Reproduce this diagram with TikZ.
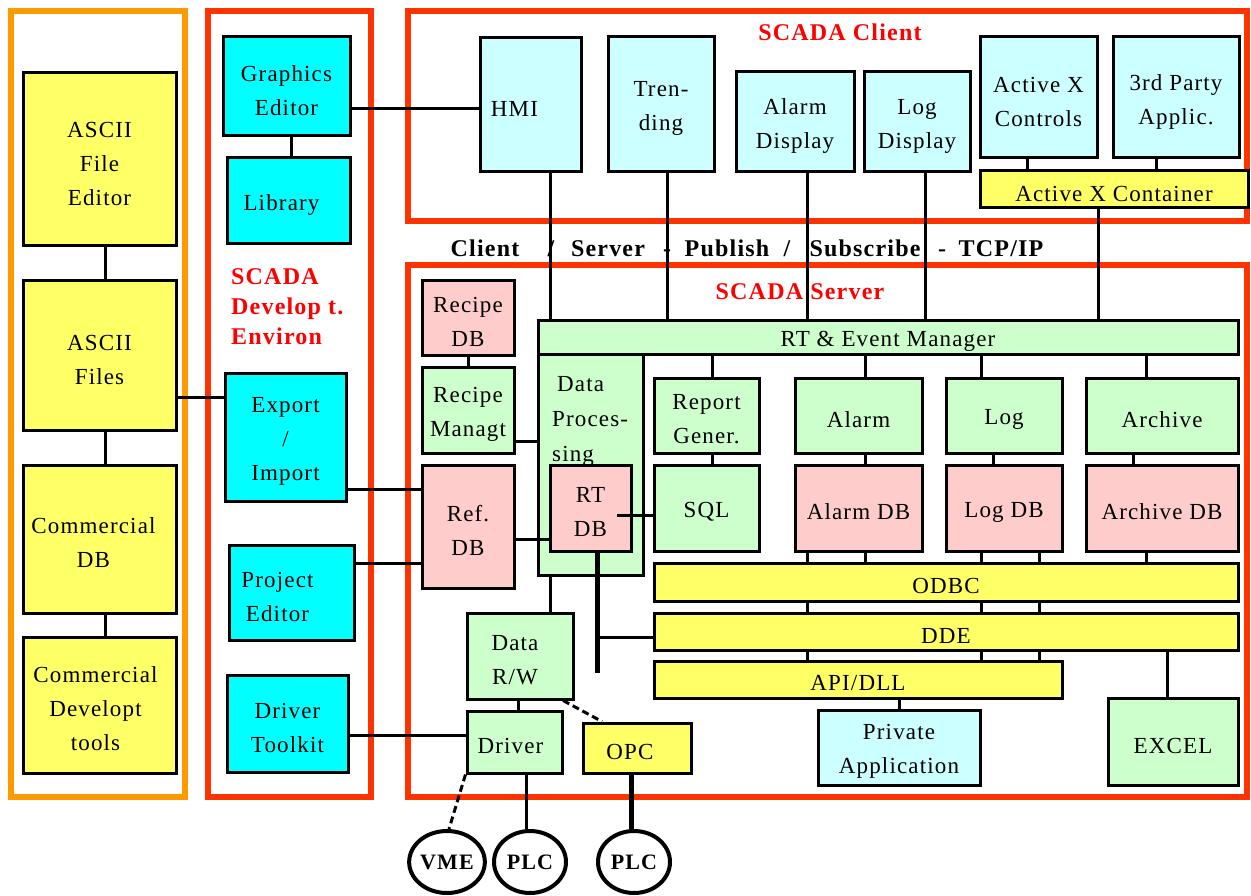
\documentclass[tikz,border=0pt]{standalone}
\usepackage{fontspec}
\setmainfont{Liberation Serif}[LetterSpace=5]
\usetikzlibrary{shapes.geometric}
\definecolor{cy}{HTML}{00FFFF}
\definecolor{lcy}{HTML}{CCFFFF}
\definecolor{yl}{HTML}{FFFF66}
\definecolor{gr}{HTML}{CCFFCC}
\definecolor{pk}{HTML}{FFCCCC}
\definecolor{fr}{HTML}{FF3300}
\definecolor{org}{HTML}{FF9900}
\definecolor{rt}{HTML}{FF0000}
\tikzset{
 box/.style={draw, line width=3pt, inner sep=0pt},
 btxt/.style={yshift=-4pt, align=center, inner sep=0pt, font=\fontsize{23}{34}\selectfont},
 bt/.style={label={[btxt]center:#1}},
 frame/.style={draw=fr, line width=6pt},
 conn/.style={line width=3pt},
 thickconn/.style={line width=5pt},
 dconn/.style={line width=3pt, dash pattern=on 7pt off 4pt},
 title/.style={text=rt, inner sep=0pt, font=\fontsize{24}{30}\selectfont\bfseries},
 bus/.style={inner sep=0pt, anchor=base, font=\fontsize{24}{30}\selectfont\bfseries},
 dev/.style={ellipse, draw, line width=4pt, fill=white, minimum width=72pt, minimum height=62pt, inner sep=0pt, font=\fontsize{22}{26}\selectfont\bfseries},
}
\begin{document}
\begin{tikzpicture}[x=1pt,y=-1pt]
\useasboundingbox[fill=white] (0,0) rectangle (1251,896);
% frames
\draw[draw=org, line width=6pt] (11,11) rectangle (185,797);
\draw[frame] (208,11) rectangle (371,797);
\draw[frame] (408,11) rectangle (1247,221);
\draw[frame] (408,265) rectangle (1247,797);
% titles
\node[title] (tclient) at (840,32) {SCADA Client};
\node[title] (tserver) at (800,292) {SCADA Server};
\node[title, anchor=north west, align=left, font=\fontsize{24}{30}\selectfont\bfseries] (tdev) at (231,268) {SCADA\\Develop t.\\Environ};
% bus label
\node[bus] (b1) at (485,257) {Client};
\node[bus] (b2) at (551,257) {/};
\node[bus] (b3) at (608,257) {Server};
\node[bus] (b4) at (667,257) {-};
\node[bus] (b5) at (727,257) {Publish};
\node[bus] (b6) at (787,257) {/};
\node[bus] (b7) at (865,257) {Subscribe};
\node[bus] (b8) at (942,257) {-};
\node[bus] (b9) at (1001,257) {TCP/IP};
% left column
\node[box,fill=yl,minimum width=153pt,minimum height=173pt,bt={ASCII\\File\\Editor}] (ased) at (99.5,159.5) {};
\node[box,fill=yl,minimum width=153pt,minimum height=149pt,bt={ASCII\\Files}] (asf) at (99.5,355.5) {};
\node[box,fill=yl,minimum width=153pt,minimum height=148pt,label={[btxt,xshift=-6pt]center:Commercial\\DB}] (cdb) at (99.5,539) {};
\node[box,fill=yl,minimum width=153pt,minimum height=136pt,label={[btxt,xshift=-4pt]center:Commercial\\Developt\\tools}] (cdev) at (99.5,705) {};
% development environment
\node[box,fill=cy,minimum width=127pt,minimum height=99pt,bt={Graphics\\Editor}] (ged) at (286.5,86.5) {};
\node[box,fill=cy,minimum width=123pt,minimum height=86pt,label={[btxt,xshift=-7pt]center:Library}] (lib) at (288.5,201) {};
\node[box,fill=cy,minimum width=121pt,minimum height=128pt,bt={Export\\/\\Import}] (exp) at (285.5,437) {};
\node[box,fill=cy,minimum width=125pt,minimum height=95pt,label={[btxt,xshift=-14pt]center:Project\\Editor}] (ped) at (291.5,592.5) {};
\node[box,fill=cy,minimum width=121pt,minimum height=97pt,bt={Driver\\Toolkit}] (dtk) at (287.5,723.5) {};
% client
\node[box,fill=lcy,minimum width=101pt,minimum height=134pt,label={[btxt,xshift=-16pt]center:HMI}] (hmi) at (530.5,105) {};
\node[box,fill=lcy,minimum width=106pt,minimum height=135pt,bt={Tren-\\ding}] (trend) at (661,104.5) {};
\node[box,fill=lcy,minimum width=118pt,minimum height=100pt,bt={Alarm\\Display}] (ald) at (795,122) {};
\node[box,fill=lcy,minimum width=106pt,minimum height=100pt,bt={Log\\Display}] (lgd) at (917,122) {};
\node[box,fill=lcy,minimum width=117pt,minimum height=121pt,bt={Active X\\Controls}] (axc) at (1038.5,97.5) {};
\node[box,fill=lcy,minimum width=126pt,minimum height=121pt,bt={3rd Party\\Applic.}] (tpa) at (1176,97.5) {};
\node[box,fill=yl,minimum width=268pt,minimum height=37pt,bt={Active X Container}] (axcon) at (1114,189.5) {};
% server
\node[box,fill=pk,minimum width=92pt,minimum height=74pt,bt={Recipe\\DB}] (recdb) at (468,318) {};
\node[box,fill=gr,minimum width=92pt,minimum height=86pt,bt={Recipe\\Managt}] (recm) at (468,410) {};
\node[box,fill=pk,minimum width=92pt,minimum height=123pt,bt={Ref.\\DB}] (refdb) at (468,526.5) {};
\node[box,fill=gr,minimum width=105pt,minimum height=221pt] (dproc) at (590.5,464.5) {};
\node[anchor=west, align=left, inner sep=0pt, font=\fontsize{23}{35}\selectfont] (dptext) at (552,421) {\hspace{5pt}Data\\Proces-\\sing};
\node[box,fill=pk,minimum width=81pt,minimum height=86pt,bt={RT\\DB}] (rtdb) at (590.5,508) {};
\node[box,fill=gr,minimum width=700pt,minimum height=34pt,bt={RT \& Event Manager}] (rtem) at (888,337) {};
\node[box,fill=gr,minimum width=105pt,minimum height=75pt,bt={Report\\Gener.}] (rep) at (706.5,415.5) {};
\node[box,fill=gr,minimum width=127pt,minimum height=75pt,bt={Alarm}] (alm) at (858.5,415.5) {};
\node[box,fill=gr,minimum width=116pt,minimum height=75pt,bt={Log}] (lg) at (1004,415.5) {};
\node[box,fill=gr,minimum width=152pt,minimum height=75pt,bt={Archive}] (arc) at (1162,415.5) {};
\node[box,fill=gr,minimum width=105pt,minimum height=86pt,bt={SQL}] (sql) at (706.5,508) {};
\node[box,fill=pk,minimum width=127pt,minimum height=86pt,bt={Alarm DB}] (almdb) at (858.5,508) {};
\node[box,fill=pk,minimum width=116pt,minimum height=86pt,bt={Log DB}] (lgdb) at (1004,508) {};
\node[box,fill=pk,minimum width=152pt,minimum height=86pt,bt={Archive DB}] (arcdb) at (1162,508) {};
\node[box,fill=yl,minimum width=584pt,minimum height=38pt,bt={ODBC}] (odbc) at (946,582) {};
\node[box,fill=yl,minimum width=584pt,minimum height=37pt,bt={DDE}] (dde) at (946,631.5) {};
\node[box,fill=yl,minimum width=408pt,minimum height=37pt,bt={API/DLL}] (api) at (858,679.5) {};
\node[box,fill=lcy,minimum width=162pt,minimum height=75pt,bt={Private\\Application}] (priv) at (899,747.5) {};
\node[box,fill=gr,minimum width=130pt,minimum height=87pt,bt={EXCEL}] (xl) at (1173,741.5) {};
\node[box,fill=gr,minimum width=106pt,minimum height=86pt,label={[btxt,xshift=-5pt]center:Data\\R/W}] (drw) at (520,656) {};
\node[box,fill=gr,minimum width=95pt,minimum height=62pt,label={[btxt,xshift=-4pt]center:Driver}] (drv) at (514.5,742) {};
\node[box,fill=yl,minimum width=108pt,minimum height=50pt,label={[btxt,xshift=-7pt]center:OPC}] (opc) at (637,748) {};
\node[dev] (vme) at (447,862) {VME};
\node[dev] (plc1) at (530,862) {PLC};
\node[dev] (plc2) at (634,862) {PLC};
% connectors: left column
\draw[conn] (ased.south -| 105,0) -- (asf.north -| 105,0);
\draw[conn] (asf.south -| 105,0) -- (cdb.north -| 105,0);
\draw[conn] (cdb.south -| 105,0) -- (cdev.north -| 105,0);
\draw[conn] (asf.east |- 0,397) -- (exp.west |- 0,397);
% development environment
\draw[conn] (ged.east |- 0,109) -- (hmi.west |- 0,109);
\draw[conn] (ged.south -| 291,0) -- (lib.north -| 291,0);
\draw[conn] (exp.east |- 0,489) -- (refdb.west |- 0,489);
\draw[conn] (ped.east |- 0,563) -- (refdb.west |- 0,563);
\draw[conn] (dtk.east |- 0,735) -- (drv.west |- 0,735);
% client to server
\draw[conn] (hmi.south -| 550,0) -- (rtem.north -| 550,0);
\draw[conn] (trend.south -| 667,0) -- (rtem.north -| 667,0);
\draw[conn] (ald.south -| 807,0) -- (rtem.north -| 807,0);
\draw[conn] (lgd.south -| 925,0) -- (rtem.north -| 925,0);
\draw[conn] (axc.south -| 1027,0) -- (axcon.north -| 1027,0);
\draw[conn] (tpa.south -| 1156,0) -- (axcon.north -| 1156,0);
\draw[conn] (axcon.south -| 1098,0) -- (rtem.north -| 1098,0);
% server internals
\draw[conn] (recdb.south) -- (recm.north);
\draw[conn] (recm.east |- 0,441) -- (dproc.west |- 0,441);
\draw[conn] (refdb.east |- 0,539) -- (rtdb.west |- 0,539);
\coordinate (rtdbtap) at (617,515);
\draw[conn] (rtdbtap) -- (sql.west |- rtdbtap);
\coordinate (ddetap) at (597,637);
\coordinate (rtend) at (597,673);
\draw[thickconn] (rtdb.south -| rtend) -- (rtend);
\draw[conn] (ddetap) -- (dde.west |- ddetap);
\draw[conn] (dproc.south -| 550,0) -- (drw.north -| 550,0);
\foreach \xx/\n in {712/rep, 865/alm, 981/lg, 1146/arc}
  \draw[conn] (rtem.south -| \xx,0) -- (\n.north -| \xx,0);
\foreach \xx/\a/\b in {712/rep/sql, 865/alm/almdb, 993/lg/lgdb, 1133/arc/arcdb}
  \draw[conn] (\a.south -| \xx,0) -- (\b.north -| \xx,0);
\foreach \xx/\n in {807/almdb, 865/almdb, 981/lgdb, 1039/lgdb, 1146/arcdb}
  \draw[conn] (\n.south -| \xx,0) -- (odbc.north -| \xx,0);
\foreach \xx in {807, 981, 1039} {
  \draw[conn] (odbc.south -| \xx,0) -- (dde.north -| \xx,0);
  \draw[conn] (dde.south -| \xx,0) -- (api.north -| \xx,0);
}
\draw[conn] (dde.south -| 1167,0) -- (xl.north -| 1167,0);
\draw[conn] (api.south -| 899,0) -- (priv.north -| 899,0);
\draw[conn] (drw.south -| 518,0) -- (drv.north -| 518,0);
\draw[dconn] (drw.south -| 563,0) -- (opc.north -| 602,0);
\draw[dconn] (drv.south west) -- (vme.north -| 449,0);
\draw[conn] (drv.south -| 526,0) -- (plc1.north -| 526,0);
\draw[thickconn] (opc.south -| 631,0) -- (plc2.north -| 631,0);
\end{tikzpicture}
\end{document}
